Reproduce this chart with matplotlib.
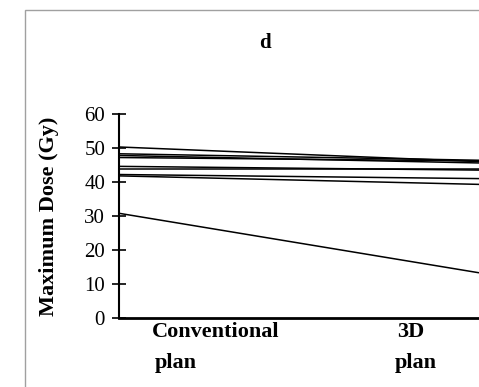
import matplotlib
matplotlib.use("Agg")
import matplotlib.pyplot as plt
from matplotlib.patches import Rectangle

# Maximum dose per patient: conventional plan vs 3D plan
plan_names = ["Conventional", "3D"]
conventional = [50.3, 48.3, 47.8, 47.2, 44.6, 43.8, 42.2, 41.8, 30.8]
plan_3d = [46.0, 46.4, 45.6, 46.2, 43.5, 43.8, 41.0, 39.3, 13.3]
yticks = [0, 10, 20, 30, 40, 50, 60]

plt.rcParams["font.family"] = ["Liberation Serif", "DejaVu Serif"]

W, H = 479, 387
fig = plt.figure(figsize=(W / 100, H / 100), dpi=100)
ax = fig.add_axes([119 / W, 1 - 318 / H, 1 - 119 / W, (318 - 114) / H])

# gray frame around the panel
fig.patches.append(Rectangle((25 / W, -0.1), 1.0, 1.1 - 10 / H, transform=fig.transFigure,
                             fill=False, edgecolor="#a0a0a0", linewidth=1.0))

for a, b in zip(conventional, plan_3d):
    ax.plot([0, 1], [a, b], color="black", linewidth=1.1, solid_capstyle="butt")

ax.set_xlim(0, 1)
ax.set_ylim(0, 60)
ax.set_yticks(yticks)
ax.tick_params(axis="y", direction="inout", length=10, width=1.2, pad=5, labelsize=15)
ax.set_xticks([])
for s in ["top", "right"]:
    ax.spines[s].set_visible(False)
ax.spines["left"].set_linewidth(1.5)
ax.spines["bottom"].set_linewidth(2)

fig.text(49 / W, 1 - 216 / H, "Maximum Dose (Gy)", rotation=90, ha="center", va="center",
         fontsize=16, fontweight="bold")

# category labels below the axis
fig.text(152 / W, 1 - 337 / H, plan_names[0], ha="left", va="baseline", fontsize=16, fontweight="bold")
fig.text(155 / W, 1 - 368 / H, "plan", ha="left", va="baseline", fontsize=16, fontweight="bold")
fig.text(411 / W, 1 - 337 / H, plan_names[1], ha="center", va="baseline", fontsize=16, fontweight="bold")
fig.text(416 / W, 1 - 368 / H, "plan", ha="center", va="baseline", fontsize=16, fontweight="bold")

fig.text(265 / W, 1 - 43 / H, "d", ha="center", va="center", fontsize=15, fontweight="bold")

fig.savefig("out.png", dpi=100, facecolor="white")
